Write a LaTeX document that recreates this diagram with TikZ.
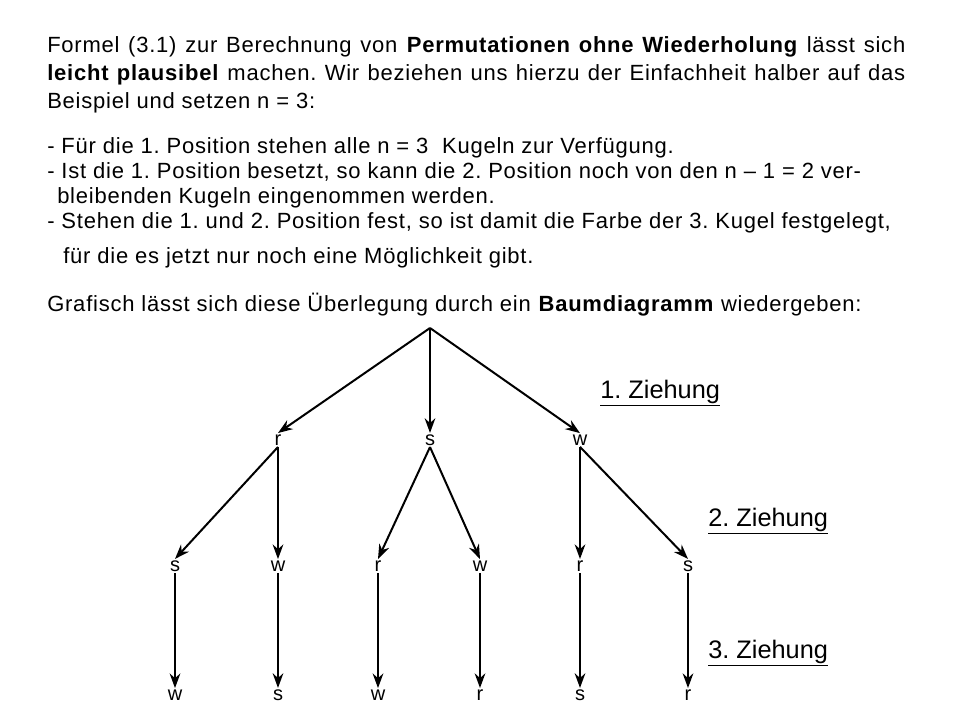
\documentclass[tikz,border=0pt]{standalone}
\usepackage{fontspec}
\setmainfont{Liberation Sans}
\usetikzlibrary{arrows.meta}
\begin{document}
\frenchspacing
\begin{tikzpicture}[x=0.75pt,y=-0.75pt,
  txt/.style={anchor=base west,inner sep=0pt,font=\fontsize{16.5pt}{18pt}\selectfont\addfontfeature{LetterSpace=3.5}},
  lab/.style={inner sep=1pt,font=\fontsize{15pt}{17pt}\selectfont},
  zieh/.style={anchor=base west,inner sep=0pt,font=\fontsize{19pt}{21pt}\selectfont},
  arr/.style={line width=1.5pt,-{Stealth[length=11pt,width=8pt]}}]
\useasboundingbox (0,0) rectangle (960,720);
\node[txt] (l1) at (47,53) {\makebox[643.5pt][s]{Formel (3.1) zur Berechnung von \textbf{Permutationen ohne Wiederholung} lässt sich}};
\node[txt] (l2) at (47,81) {\makebox[643.5pt][s]{\textbf{leicht plausibel} machen. Wir beziehen uns hierzu der Einfachheit halber auf das}};
\node[txt] (l3) at (47,109) {Beispiel und setzen n = 3:};
\node[txt] (p1) at (47,154) {- Für die 1. Position stehen alle n = 3\ \ Kugeln zur Verfügung.};
\node[txt] (p2) at (47,179) {- Ist die 1. Position besetzt, so kann die 2. Position noch von den n – 1 = 2 ver-};
\node[txt] (p3) at (57,204) {bleibenden Kugeln eingenommen werden.};
\node[txt] (p4) at (47,229) {- Stehen die 1. und 2. Position fest, so ist damit die Farbe der 3. Kugel festgelegt,};
\node[txt] (p5) at (63,264) {für die es jetzt nur noch eine Möglichkeit gibt.};
\node[txt] (g) at (47,311) {Grafisch lässt sich diese Überlegung durch ein \textbf{Baumdiagramm} wiedergeben:};
\coordinate (root) at (430,328);
\node[lab] (r) at (278,440) {r};
\node[lab] (s) at (430,440) {s};
\node[lab] (w) at (580,440) {w};
\foreach \n/\t/\x in {a/s/175,b/w/278,c/r/378,d/w/480,e/r/580,f/s/688}{
  \node[lab] (\n) at (\x,566) {\t};}
\foreach \n/\t/\x in {a3/w/175,b3/s/278,c3/w/378,d3/r/480,e3/s/580,f3/r/688}{
  \node[lab] (\n) at (\x,695) {\t};}
\foreach \t in {r,s,w} \draw[arr] (root) -- (\t.north);
\draw[arr] (r.south) -- (a.north); \draw[arr] (r.south) -- (b.north);
\draw[arr] (s.south) -- (c.north); \draw[arr] (s.south) -- (d.north);
\draw[arr] (w.south) -- (e.north); \draw[arr] (w.south) -- (f.north);
\foreach \n in {a,b,c,d,e,f} \draw[arr] (\n.south) -- (\n3.north);
\node[zieh] (z1) at (600,398) {\underline{1. Ziehung}};
\node[zieh] (z2) at (708,526) {\underline{2. Ziehung}};
\node[zieh] (z3) at (708,658) {\underline{3. Ziehung}};
\end{tikzpicture}
\end{document}
